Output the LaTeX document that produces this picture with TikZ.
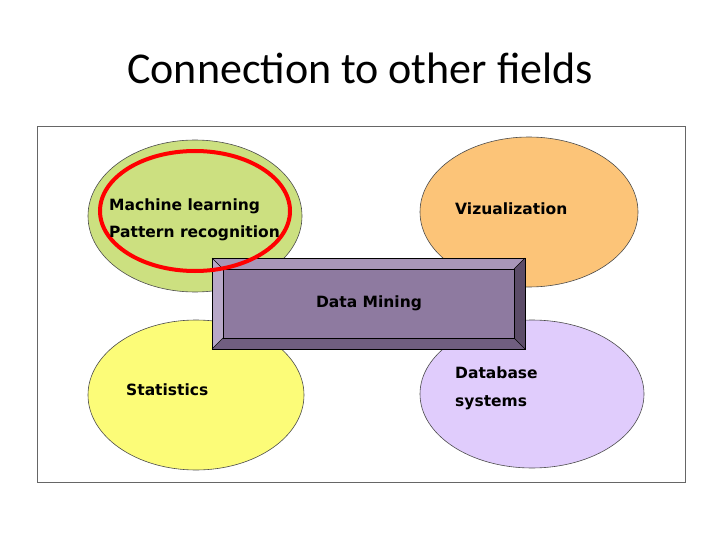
\documentclass[tikz,border=0pt]{standalone}
\usepackage{fontspec}
\setmainfont{Carlito}
\newfontfamily\lab{DejaVu Sans}
\definecolor{cgreen}{RGB}{204,224,128}
\definecolor{corange}{RGB}{252,196,120}
\definecolor{cyellow}{RGB}{252,252,120}
\definecolor{cpurple}{RGB}{224,204,252}
\definecolor{btop}{RGB}{168,150,184}
\definecolor{bright}{RGB}{92,76,104}
\definecolor{bbot}{RGB}{112,94,128}
\definecolor{bleft}{RGB}{184,168,200}
\definecolor{bface}{RGB}{142,122,160}
\begin{document}
\begin{tikzpicture}[x=1pt,y=-1pt,
  blob/.style={draw=black!70,line width=0.6pt},
  lbl/.style={font=\lab\bfseries\fontsize{15.5}{18}\selectfont,anchor=west,inner sep=0pt}]
\useasboundingbox (0,0) rectangle (720,540);
\node (title) at (360,68) {\fontsize{44}{50}\selectfont Connection to other fields};
\draw[black!60,line width=0.8pt] (37,126) rectangle (685,482);
\path[blob,fill=cgreen] (195,216) ellipse [x radius=107,y radius=76];
\path[blob,fill=corange] (529,212) ellipse [x radius=109,y radius=75];
\path[blob,fill=cyellow] (196,395) ellipse [x radius=108,y radius=75];
\path[blob,fill=cpurple] (532,394) ellipse [x radius=112,y radius=74];
% bevel box
\coordinate (o1) at (212,258); \coordinate (o2) at (525,258);
\coordinate (o3) at (525,349); \coordinate (o4) at (212,349);
\coordinate (i1) at (223,269); \coordinate (i2) at (514,269);
\coordinate (i3) at (514,338); \coordinate (i4) at (223,338);
\fill[btop] (o1)--(o2)--(i2)--(i1)--cycle;
\fill[bright] (o2)--(o3)--(i3)--(i2)--cycle;
\fill[bbot] (o3)--(o4)--(i4)--(i3)--cycle;
\fill[bleft] (o4)--(o1)--(i1)--(i4)--cycle;
\draw[black,line width=0.7pt,fill=bface] (i1) rectangle (i3);
\draw[black,line width=0.5pt] (o1)--(i1) (o2)--(i2) (o3)--(i3) (o4)--(i4);
\draw[black,line width=0.9pt] (o1) rectangle (o3);
\node[lbl,anchor=center] (dm) at (369,303) {Data Mining};
\draw[red,line width=4pt] (195,211) ellipse [x radius=95,y radius=60];
\node[lbl] (ml) at (109,206) {Machine learning};
\node[lbl] (pr) at (109,233) {Pattern recognition};
\node[lbl] (vz) at (455,209) {Vizualization};
\node[lbl] (st) at (126,390) {Statistics};
\node[lbl] (db) at (455,373) {Database};
\node[lbl] (sy) at (455,403) {systems};
\end{tikzpicture}
\end{document}
